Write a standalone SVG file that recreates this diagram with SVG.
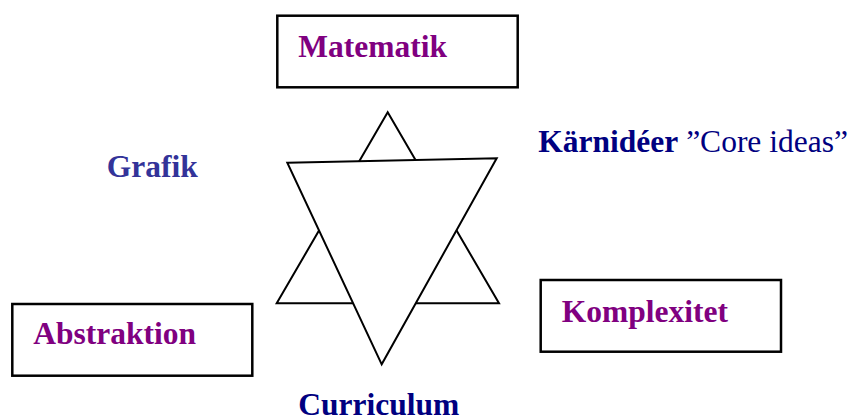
<svg xmlns="http://www.w3.org/2000/svg" width="851" height="418" viewBox="0 0 851 418">
<style>
.box{fill:#fff;stroke:#000;stroke-width:2.5}
.tri{fill:#fff;stroke:#000;stroke-width:2;stroke-linejoin:miter}
.t{font-family:"Liberation Serif","Times New Roman",serif;font-size:31.5px}
.b{font-weight:bold}
.purple{fill:#800080}
.navy{fill:#000080}
</style>
<rect width="851" height="418" fill="#fff"/>
<g id="star">
<polygon class="tri" points="387.7,112.3 276.7,303.3 499,303.3"/>
<polygon class="tri" points="287.3,162.7 496.7,158.3 381.7,364.3"/>
</g>
<g id="matematik">
<rect class="box" x="277.3" y="15.7" width="240.4" height="71.6"/>
<text class="t b purple" x="298.3" y="56.7">Matematik</text>
</g>
<g id="abstraktion">
<rect class="box" x="12.3" y="304" width="240" height="71.7"/>
<text class="t b purple" x="33.3" y="344.3">Abstraktion</text>
</g>
<g id="komplexitet">
<rect class="box" x="540.7" y="280" width="240.3" height="71.7"/>
<text class="t b purple" x="561.7" y="321.7">Komplexitet</text>
</g>
<g id="grafik">
<text class="t b" fill="#333399" x="106.7" y="176.7">Grafik</text>
</g>
<g id="karnideer">
<text class="t navy" x="538.3" y="151.7"><tspan class="b">Kärnidéer</tspan> ”Core ideas”</text>
</g>
<g id="curriculum">
<text class="t b navy" x="298.3" y="414.5">Curriculum</text>
</g>
<g id="connectors"></g>
</svg>
